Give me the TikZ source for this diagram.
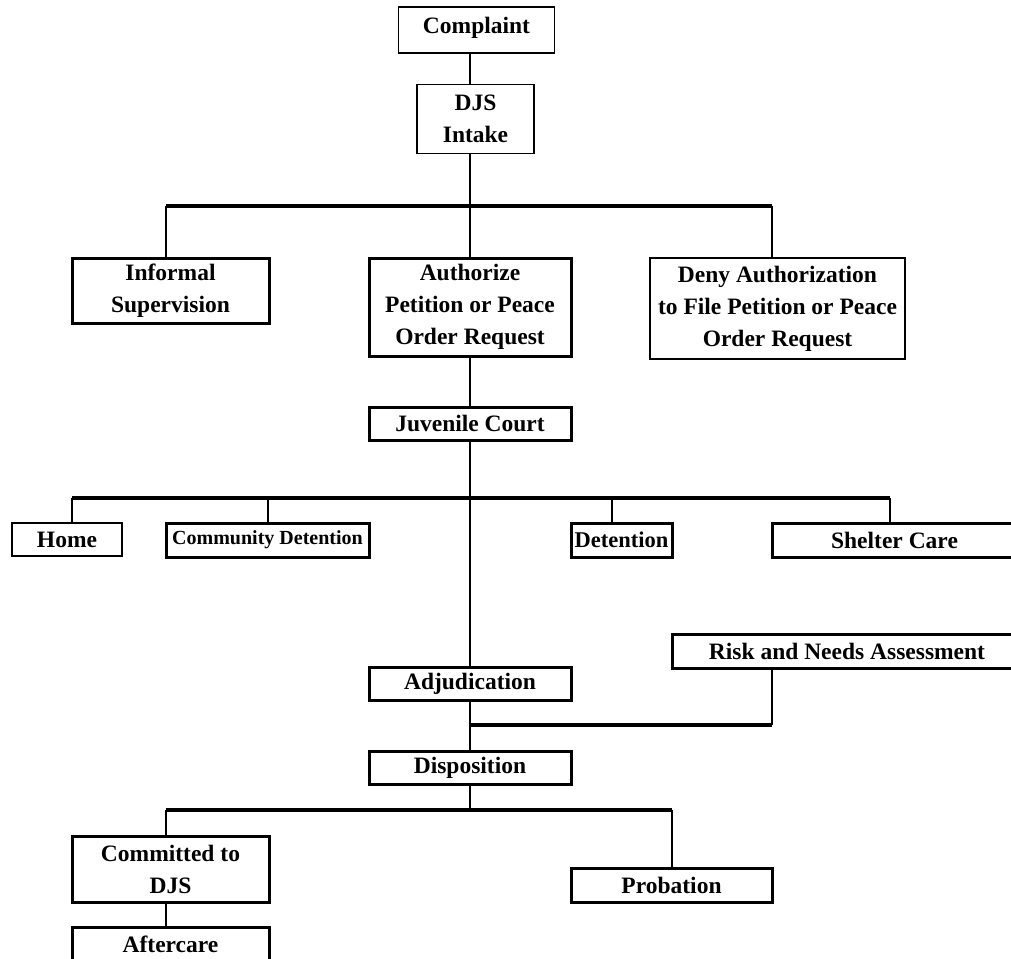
\documentclass[tikz,border=0pt]{standalone}
\usepackage{fontspec}
\setmainfont{Liberation Serif}
\tikzset{
  box/.style={draw,line width=1.6pt,inner sep=0pt,align=center,
    font=\bfseries\fontsize{23.5}{32}\selectfont},
  boldbox/.style={box,line width=3pt},
  link/.style={line width=2pt},
  bar/.style={line width=3.2pt}
}
\begin{document}
\begin{tikzpicture}[x=1pt,y=-1pt]
      \clip (0,0) rectangle (1011,958);
      \coordinate (s1L) at (166,206);
      \coordinate (s1R) at (772,206);
      \coordinate (s2L) at (72,498);
      \coordinate (s2a) at (268,498);
      \coordinate (s2b) at (612,498);
      \coordinate (s2R) at (890,498);
      \coordinate (j) at (772,725);
      \coordinate (s3L) at (166,810);
      \coordinate (s3R) at (672,810);
      \node[box,minimum width=156,minimum height=46,text depth=10pt] (compl) at (476.5,30) {Complaint};
      \node[box,minimum width=117,minimum height=69] (intake) at (475.5,119) {DJS\\Intake};
      \node[boldbox,minimum width=197,minimum height=65] (inf) at (170.5,290.5) {Informal\\Supervision};
      \node[boldbox,minimum width=202,minimum height=98] (auth) at (470,307) {Authorize\\Petition or Peace\\Order Request};
      \node[box,minimum width=255,minimum height=101] (deny) at (777.5,308.5) {Deny Authorization\\to File Petition or Peace\\Order Request};
      \node[boldbox,minimum width=202,minimum height=33] (jc) at (470,423.5) {Juvenile Court};
      \node[box,minimum width=110,minimum height=33] (home) at (67,539.5) {Home};
      \node[boldbox,minimum width=203,minimum height=34,font=\bfseries\fontsize{20}{24}\selectfont] (cd) at (267.5,540) {Community Detention};
      \node[boldbox,minimum width=101,minimum height=34,font=\bfseries\fontsize{22.5}{28}\selectfont] (det) at (621.5,540) {Detention};
      \node[boldbox,minimum width=245,minimum height=34] (shel) at (894.5,540) {Shelter Care};
      \node[boldbox,minimum width=350,minimum height=34] (risk) at (847,651) {Risk and Needs Assessment};
      \node[boldbox,minimum width=202,minimum height=33] (adj) at (470,683.5) {Adjudication};
      \node[boldbox,minimum width=202,minimum height=33] (disp) at (470,767.5) {Disposition};
      \node[boldbox,minimum width=197,minimum height=66] (comm) at (170.5,869) {Committed to\\DJS};
      \node[boldbox,minimum width=201,minimum height=34] (prob) at (671.5,885) {Probation};
      \node[boldbox,minimum width=197,minimum height=34] (after) at (170.5,944) {Aftercare};
      \draw[link] (compl.south -| auth) -- (intake.north -| auth);
      \draw[link] (intake.south -| auth) -- (auth.north);
      \draw[bar] (s1L) -- (s1R);
      \draw[link] (s1L) -- (s1L |- inf.north);
      \draw[link] (s1R) -- (s1R |- deny.north);
      \draw[link] (auth.south) -- (jc.north);
      \draw[link] (jc.south) -- (adj.north);
      \draw[bar] (s2L) -- (s2R);
      \draw[link] (s2L) -- (s2L |- home.north);
      \draw[link] (s2a) -- (s2a |- cd.north);
      \draw[link] (s2b) -- (s2b |- det.north);
      \draw[link] (s2R) -- (s2R |- shel.north);
      \draw[link] (risk.south -| j) -- (j);
      \draw[bar] (j) -- (j -| adj);
      \draw[link] (adj.south) -- (disp.north);
      \draw[link] (disp.south) -- (disp.south |- s3L);
      \draw[bar] (s3L) -- (s3R);
      \draw[link] (s3L) -- (s3L |- comm.north);
      \draw[link] (s3R) -- (s3R |- prob.north);
      \draw[link] (comm.south -| s3L) -- (after.north -| s3L);
\end{tikzpicture}
\end{document}
